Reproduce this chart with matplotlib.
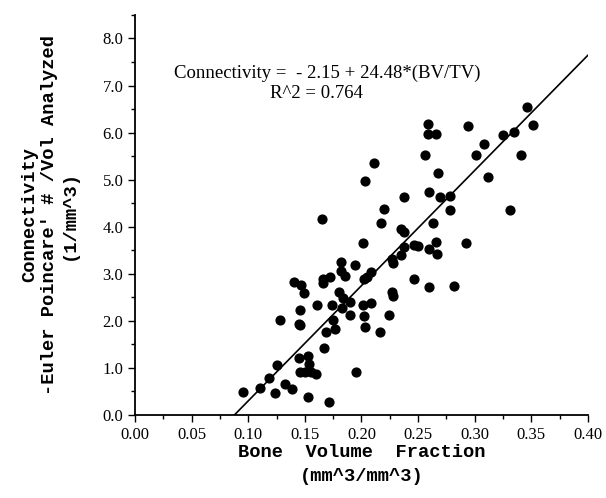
import matplotlib
matplotlib.use("Agg")
import matplotlib.pyplot as plt
from matplotlib.ticker import MultipleLocator, FormatStrFormatter

# bone volume fraction (BV/TV) and connectivity
bvtv = [0.259, 0.259, 0.266, 0.294, 0.256, 0.308, 0.301, 0.325, 0.335, 0.352,
        0.341, 0.346, 0.312, 0.268, 0.211, 0.203, 0.238, 0.260, 0.269, 0.278,
        0.220, 0.278, 0.331, 0.165, 0.217, 0.263, 0.235, 0.238, 0.201, 0.292,
        0.266, 0.260, 0.267, 0.246, 0.250, 0.238, 0.235, 0.227, 0.228, 0.182,
        0.194, 0.182, 0.185, 0.208, 0.205, 0.202, 0.166, 0.172, 0.166, 0.140,
        0.147, 0.149, 0.246, 0.260, 0.282, 0.180, 0.184, 0.227, 0.228, 0.190,
        0.161, 0.174, 0.201, 0.208, 0.183, 0.146, 0.128, 0.175, 0.190, 0.202,
        0.224, 0.145, 0.146, 0.203, 0.216, 0.177, 0.169, 0.167, 0.145, 0.153,
        0.154, 0.125, 0.118, 0.110, 0.095, 0.124, 0.132, 0.139, 0.146, 0.150,
        0.155, 0.160, 0.153, 0.171, 0.195]
conn = [6.19, 5.96, 5.96, 6.14, 5.53, 5.75, 5.52, 5.94, 6.01, 6.16,
        5.52, 6.55, 5.06, 5.13, 5.36, 4.97, 4.62, 4.73, 4.62, 4.66,
        4.38, 4.35, 4.35, 4.16, 4.08, 4.08, 3.96, 3.89, 3.66, 3.65,
        3.68, 3.52, 3.41, 3.61, 3.59, 3.56, 3.40, 3.31, 3.22, 3.25,
        3.18, 3.06, 2.96, 3.04, 2.94, 2.89, 2.89, 2.92, 2.81, 2.82,
        2.76, 2.58, 2.88, 2.71, 2.74, 2.62, 2.48, 2.62, 2.53, 2.39,
        2.34, 2.34, 2.34, 2.37, 2.27, 2.23, 2.02, 2.02, 2.12, 2.10,
        2.12, 1.93, 1.91, 1.86, 1.76, 1.82, 1.77, 1.41, 1.21, 1.25,
        1.08, 1.06, 0.79, 0.58, 0.48, 0.46, 0.65, 0.55, 0.90, 0.92,
        0.90, 0.86, 0.38, 0.28, 0.92]

intercept = -2.15
slope = 24.48

fig = plt.figure(figsize=(6.06, 4.98), dpi=100)
ax = fig.add_axes([0.223, 0.167, 0.747, 0.803])

ax.scatter(bvtv, conn, s=40, color="black", zorder=3)

x0 = -intercept / slope
x1 = 0.40
ax.plot([x0, x1], [intercept + slope * x0, intercept + slope * x1],
        color="black", lw=1.2)

ax.set_xlim(0, 0.40)
ax.set_ylim(0, 8.5)
ax.xaxis.set_major_locator(MultipleLocator(0.05))
ax.xaxis.set_minor_locator(MultipleLocator(0.025))
ax.yaxis.set_major_locator(MultipleLocator(1.0))
ax.yaxis.set_minor_locator(MultipleLocator(0.5))
ax.xaxis.set_major_formatter(FormatStrFormatter("%.2f"))
ax.yaxis.set_major_formatter(FormatStrFormatter("%.1f"))
ax.spines["top"].set_visible(False)
ax.spines["right"].set_visible(False)
ax.spines["left"].set_linewidth(1.3)
ax.spines["bottom"].set_linewidth(1.3)
ax.tick_params(which="major", length=5, width=1, direction="out")
ax.tick_params(which="minor", length=3, width=1, direction="out")
for lab in ax.get_xticklabels() + ax.get_yticklabels():
    lab.set_fontfamily("Liberation Serif")
    lab.set_fontsize(12)

lbl = dict(family="Liberation Mono", weight="bold", fontsize=13.5)
ax.set_xlabel("Bone  Volume  Fraction\n(mm^3/mm^3)", labelpad=1,
              linespacing=1.55, **lbl)
ax.set_ylabel("Connectivity\n-Euler Poincare' # /Vol Analyzed\n(1/mm^3)",
              labelpad=18, linespacing=1.2, **lbl)

ax.text(0.170, 7.26, "Connectivity =  - 2.15 + 24.48*(BV/TV)",
        ha="center", va="center", family="Liberation Serif", fontsize=13.5)
ax.text(0.160, 6.84, "R^2 = 0.764",
        ha="center", va="center", family="Liberation Serif", fontsize=13.5)

fig.savefig("out.png", dpi=100)
